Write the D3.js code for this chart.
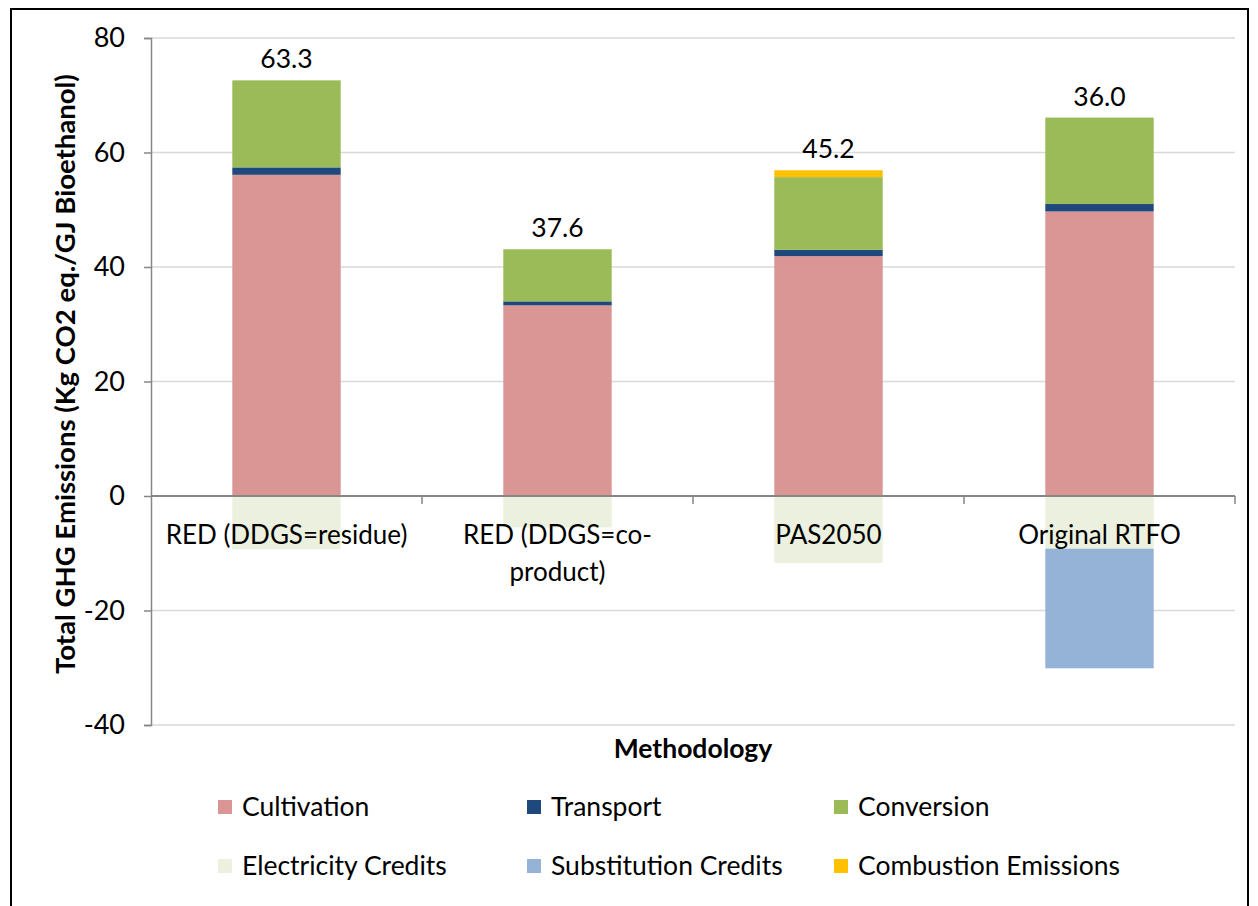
<!DOCTYPE html>
<html><head><meta charset="utf-8">
<script src="https://cdn.jsdelivr.net/npm/d3@7"></script>
<style>
html,body{margin:0;padding:0;background:#fff;}
svg{display:block;font-family:Lato,"Open Sans",sans-serif;}
</style></head>
<body><svg id="c" width="1258" height="906"></svg>
<script>
const categories = ["RED (DDGS=residue)", "RED (DDGS=co-product)", "PAS2050", "Original RTFO"];
const categoryLines = [["RED (DDGS=residue)"], ["RED (DDGS=co-", "product)"], ["PAS2050"], ["Original RTFO"]];
const seriesNames = ["Cultivation", "Transport", "Conversion", "Electricity Credits", "Substitution Credits", "Combustion Emissions"];
const cultivation = [56.1, 33.3, 41.9, 49.7];
const transport = [1.3, 0.7, 1.1, 1.3];
const conversion = [15.2, 9.1, 12.7, 15.1];
const electricityCredits = [-9.3, -5.5, -11.7, -9.2];
const substitutionCredits = [0, 0, 0, -20.9];
const combustionEmissions = [0, 0, 1.2, 0];
const totalLabels = ["63.3", "37.6", "45.2", "36.0"];
const yTicks = [-40, -20, 0, 20, 40, 60, 80];
const colors = ["#D99694", "#1F497D", "#9BBB59", "#EBF1DE", "#95B3D7", "#FFC000"];

const seriesValues = [cultivation, transport, conversion, electricityCredits, substitutionCredits, combustionEmissions];
const table = categories.map((c, i) => {
  const row = {cat: c};
  seriesNames.forEach((s, k) => row[s] = seriesValues[k][i]);
  return row;
});

const svg = d3.select("#c");
const L = 151, R = 1235, T = 38, B = 725;
const x = d3.scaleBand().domain(categories).range([L, R]).paddingInner(0.6).paddingOuter(0.3);
const xc = d3.scaleBand().domain(categories).range([L, R]);
const y = d3.scaleLinear().domain([-40, 80]).range([B, T]);

// border
svg.append("rect").attr("x", 11).attr("y", 9).attr("width", 1237).attr("height", 910)
  .attr("fill", "none").attr("stroke", "#000").attr("stroke-width", 2);

// gridlines
svg.append("g").selectAll("line").data(yTicks.filter(t => t !== 0)).join("line")
  .attr("x1", L).attr("x2", R).attr("y1", d => y(d)).attr("y2", d => y(d))
  .attr("stroke", "#D9D9D9").attr("stroke-width", 1.5);

// bars
const stack = d3.stack().keys(seriesNames).offset(d3.stackOffsetDiverging);
const layers = stack(table);
svg.append("g").selectAll("g").data(layers).join("g")
  .attr("fill", (d, i) => colors[i])
  .selectAll("rect").data(d => d).join("rect")
  .attr("x", d => x(d.data.cat)).attr("width", x.bandwidth())
  .attr("y", d => y(Math.max(d[0], d[1])))
  .attr("height", d => Math.abs(y(d[0]) - y(d[1])));

// y axis
const yAxis = d3.axisLeft(y).tickValues(yTicks).tickSize(7).tickPadding(19).tickFormat(d => String(d));
const gy = svg.append("g").attr("transform", `translate(${L},0)`).call(yAxis);
gy.select(".domain").attr("stroke", "#868686").attr("stroke-width", 1.5);
gy.selectAll(".tick line").attr("stroke", "#868686").attr("stroke-width", 1.5);
gy.selectAll(".tick text").attr("font-size", 27).attr("fill", "#000").attr("font-family", "Lato,sans-serif");

// x axis at zero
const gx = svg.append("g").attr("transform", `translate(0,${y(0)})`);
gx.append("line").attr("x1", L).attr("x2", R).attr("stroke", "#868686").attr("stroke-width", 2);
const bounds = categories.map(c => xc(c)).concat([R]);
gx.selectAll(".tk").data(bounds.slice(1)).join("line").attr("class", "tk")
  .attr("x1", d => d).attr("x2", d => d).attr("y1", 0).attr("y2", 8)
  .attr("stroke", "#868686").attr("stroke-width", 1.5);

// category labels
const cl = svg.append("g").selectAll("text").data(categories).join("text")
  .attr("x", d => xc(d) + xc.bandwidth() / 2).attr("y", y(0) + 48)
  .attr("text-anchor", "middle").attr("font-size", 26).attr("fill", "#000");
cl.each(function(d, i) {
  d3.select(this).selectAll("tspan").data(categoryLines[i]).join("tspan")
    .attr("x", xc(d) + xc.bandwidth() / 2).attr("dy", (t, j) => j === 0 ? 0 : 37).text(t => t);
});

// total labels
svg.append("g").selectAll("text").data(table).join("text")
  .attr("x", d => x(d.cat) + x.bandwidth() / 2)
  .attr("y", d => y(d.Cultivation + d.Transport + d.Conversion + d["Combustion Emissions"]) - 12)
  .attr("text-anchor", "middle").attr("font-size", 26.5).attr("fill", "#000")
  .text((d, i) => totalLabels[i]);

// axis titles
const yt = svg.append("text").attr("transform", `translate(75,374) rotate(-90)`)
  .attr("text-anchor", "middle").attr("font-size", 23).attr("font-weight", "bold")
  .text("Total GHG Emissions (Kg CO2 eq./GJ Bioethanol)");
const len = yt.node().getComputedTextLength();
if (len > 0) yt.attr("font-size", 23 * 600 / len);
svg.append("text").attr("x", (L + R) / 2).attr("y", 758).attr("text-anchor", "middle")
  .attr("font-size", 26.5).attr("font-weight", "bold").text("Methodology");

// legend
const legX = [218, 527, 834], legY = [807, 866];
const leg = svg.append("g").selectAll("g").data(seriesNames).join("g")
  .attr("transform", (d, i) => `translate(${legX[i % 3]},${legY[Math.floor(i / 3)]})`);
leg.append("rect").attr("x", 0).attr("y", -7).attr("width", 14).attr("height", 14).attr("fill", (d, i) => colors[i]);
leg.append("text").attr("x", 24).attr("y", 9).attr("font-size", 26.5).attr("fill", "#000").text(d => d);
</script></body></html>
